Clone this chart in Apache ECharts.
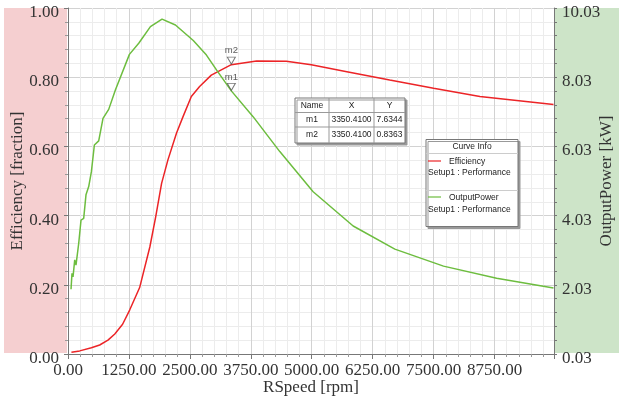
<!DOCTYPE html>
<html>
<head>
<meta charset="utf-8">
<script src="https://cdn.jsdelivr.net/npm/echarts@6/dist/echarts.min.js"></script>
<style>
html, body { margin: 0; padding: 0; background: #fff; }
#chart { width: 622px; height: 409px; }
</style>
</head>
<body>
<div id="chart"></div>
<script>
// Efficiency vs. rotor speed
const effSpeed = [70, 240, 480, 650, 820, 960, 1120, 1265, 1470, 1680, 1800, 1920, 2050, 2225, 2360, 2530, 2700, 2940, 3350.41, 3870, 4480, 4990, 5720, 6600, 7500, 8450, 9960];
const effValues = [0.005, 0.009, 0.018, 0.026, 0.040, 0.058, 0.086, 0.127, 0.192, 0.310, 0.397, 0.493, 0.561, 0.638, 0.686, 0.744, 0.773, 0.806, 0.8363, 0.847, 0.846, 0.836, 0.816, 0.792, 0.768, 0.744, 0.721];

// Output power [kW] vs. rotor speed
const powSpeed = [62, 82, 103, 138, 164, 220, 267, 322, 369, 425, 480, 541, 630, 718, 835, 972, 1260, 1451, 1691, 1929, 2204, 2570, 2840, 3046, 3350.41, 3797, 4345, 5029, 5850, 6705, 7703, 8793, 9960];
const powValues = [1.90, 2.36, 2.26, 2.75, 2.60, 3.23, 3.90, 3.95, 4.63, 4.87, 5.30, 6.07, 6.19, 6.84, 7.10, 7.66, 8.69, 9.01, 9.49, 9.71, 9.54, 9.09, 8.67, 8.24, 7.6344, 6.89, 5.88, 4.72, 3.73, 3.06, 2.57, 2.22, 1.94];

// Markers
const markerNames = ['m1', 'm2'];
const markerX = [3350.41, 3350.41];
const markerY = [7.6344, 0.8363];

// Axis ticks
const rightAxisLabels = [0.03, 2.03, 4.03, 6.03, 8.03, 10.03];
const rightAxisTicks = [0.03, 0.43, 0.83, 1.23, 1.63, 2.03, 2.43, 2.83, 3.23, 3.63, 4.03, 4.43, 4.83, 5.23, 5.63, 6.03, 6.43, 6.83, 7.23, 7.63, 8.03, 8.43, 8.83, 9.23, 9.63, 10.03];

const serif = 'Liberation Serif';
const sans = 'Liberation Sans';
const textColor = '#333';
const redColor = '#ec2427';
const greenColor = '#6dbd3f';

const chart = echarts.init(document.getElementById('chart'), null, { renderer: 'canvas' });

// Marker info table
const tbl = { x: 295, y: 98, w: 110, h: 45, c1: 329, c2: 374, r1: 112.5, r2: 127 };
const tableEls = [
  { type: 'rect', shape: { x: tbl.x, y: tbl.y, width: tbl.w, height: tbl.h },
    style: { fill: '#fff', stroke: '#777', lineWidth: 1, shadowColor: '#999', shadowOffsetX: 2, shadowOffsetY: 2, shadowBlur: 0 }, z: 100 },
  { type: 'line', shape: { x1: tbl.c1, y1: tbl.y, x2: tbl.c1, y2: tbl.y + tbl.h }, style: { stroke: '#999', lineWidth: 1 }, z: 101 },
  { type: 'line', shape: { x1: tbl.c2, y1: tbl.y, x2: tbl.c2, y2: tbl.y + tbl.h }, style: { stroke: '#999', lineWidth: 1 }, z: 101 },
  { type: 'line', shape: { x1: tbl.x, y1: tbl.r1, x2: tbl.x + tbl.w, y2: tbl.r1 }, style: { stroke: '#999', lineWidth: 1 }, z: 101 },
  { type: 'line', shape: { x1: tbl.x, y1: tbl.r2, x2: tbl.x + tbl.w, y2: tbl.r2 }, style: { stroke: '#999', lineWidth: 1 }, z: 101 }
];
const colCenters = [(tbl.x + tbl.c1) / 2, (tbl.c1 + tbl.c2) / 2, (tbl.c2 + tbl.x + tbl.w) / 2];
const rowCenters = [(tbl.y + tbl.r1) / 2, (tbl.r1 + tbl.r2) / 2, (tbl.r2 + tbl.y + tbl.h) / 2];
const tableRows = [['Name', 'X', 'Y']];
markerNames.forEach((n, i) => tableRows.push([n, markerX[i].toFixed(4), markerY[i].toFixed(4)]));
tableRows.forEach((row, ri) => {
  row.forEach((txt, ci) => {
    tableEls.push({ type: 'text', x: colCenters[ci], y: rowCenters[ri], z: 102,
      style: { text: txt, fill: '#222', font: '8.5px ' + sans, align: 'center', verticalAlign: 'middle' } });
  });
});

// Curve info box
const leg = { x: 426, y: 139.5, w: 92, h: 87 };
const legendEls = [
  { type: 'rect', shape: { x: leg.x, y: leg.y, width: leg.w, height: leg.h },
    style: { fill: '#fff', stroke: '#777', lineWidth: 1, shadowColor: '#999', shadowOffsetX: 2, shadowOffsetY: 2, shadowBlur: 0 }, z: 100 },
  { type: 'line', shape: { x1: leg.x, y1: 153.5, x2: leg.x + leg.w, y2: 153.5 }, style: { stroke: '#ccc', lineWidth: 1 }, z: 101 },
  { type: 'line', shape: { x1: leg.x, y1: 190.5, x2: leg.x + leg.w, y2: 190.5 }, style: { stroke: '#ccc', lineWidth: 1 }, z: 101 },
  { type: 'text', x: leg.x + leg.w / 2, y: 146.5, z: 102, style: { text: 'Curve Info', fill: '#222', font: '8.5px ' + sans, align: 'center', verticalAlign: 'middle' } },
  { type: 'line', shape: { x1: 428, y1: 161, x2: 441, y2: 161 }, style: { stroke: redColor, lineWidth: 1.2 }, z: 101 },
  { type: 'text', x: 449, y: 161.5, z: 102, style: { text: 'Efficiency', fill: '#222', font: '8.5px ' + sans, align: 'left', verticalAlign: 'middle' } },
  { type: 'text', x: 428, y: 173, z: 102, style: { text: 'Setup1 : Performance', fill: '#222', font: '8.5px ' + sans, align: 'left', verticalAlign: 'middle' } },
  { type: 'line', shape: { x1: 428, y1: 197, x2: 441, y2: 197 }, style: { stroke: greenColor, lineWidth: 1.2 }, z: 101 },
  { type: 'text', x: 449, y: 197.5, z: 102, style: { text: 'OutputPower', fill: '#222', font: '8.5px ' + sans, align: 'left', verticalAlign: 'middle' } },
  { type: 'text', x: 428, y: 209.5, z: 102, style: { text: 'Setup1 : Performance', fill: '#222', font: '8.5px ' + sans, align: 'left', verticalAlign: 'middle' } }
];

// Coloured axis bands
const bandEls = [
  { type: 'rect', shape: { x: 4, y: 8, width: 63, height: 345 }, style: { fill: '#f5cfd0' }, z: -10 },
  { type: 'rect', shape: { x: 555, y: 8, width: 64, height: 345 }, style: { fill: '#cde4c8' }, z: -10 }
];

function markerSeries(i, axisIndex) {
  return {
    type: 'scatter',
    yAxisIndex: axisIndex,
    data: [[markerX[i], markerY[i]]],
    symbol: 'triangle',
    symbolRotate: 180,
    symbolSize: [8, 7],
    symbolOffset: [0, -4],
    itemStyle: { color: 'rgba(255,255,255,0)', borderColor: '#555', borderWidth: 1 },
    label: { show: true, formatter: markerNames[i], position: 'top', distance: 1,
      fontSize: 9.5, fontFamily: sans, color: '#333' },
    z: 5
  };
}

const option = {
  animation: false,
  backgroundColor: '#fff',
  grid: { left: 68, right: 68, top: 8, bottom: 55, containLabel: false, outerBoundsMode: 'none' },
  xAxis: {
    type: 'value',
    min: 0, max: 9970, interval: 1250,
    name: 'RSpeed [rpm]', nameLocation: 'middle', nameGap: 25, nameMoveOverlap: false,
    nameTextStyle: { fontFamily: serif, fontSize: 17, color: textColor },
    axisLine: { show: true, lineStyle: { color: '#777' } },
    axisTick: { show: true, length: 5, lineStyle: { color: '#777' } },
    minorTick: { show: true, splitNumber: 5, length: 3, lineStyle: { color: '#999' } },
    axisLabel: { fontFamily: serif, fontSize: 17, color: textColor, margin: 8,
      showMaxLabel: false, formatter: v => v.toFixed(2) },
    splitLine: { show: true, lineStyle: { color: '#d2d2d2', width: 1 } },
    minorSplitLine: { show: true, lineStyle: { color: '#ececec', width: 1 } }
  },
  yAxis: [
    {
      type: 'value', position: 'left',
      min: 0, max: 1, interval: 0.2,
      name: 'Efficiency [fraction]', nameLocation: 'middle', nameGap: 42, nameRotate: 90, nameMoveOverlap: false,
      nameTextStyle: { fontFamily: serif, fontSize: 17, color: textColor },
      axisLine: { show: true, lineStyle: { color: '#777' } },
      axisTick: { show: true, length: 4, lineStyle: { color: '#777' } },
      minorTick: { show: true, splitNumber: 5, length: 3, lineStyle: { color: '#999' } },
      axisLabel: { fontFamily: serif, fontSize: 17, color: textColor, margin: 9,
        verticalAlign: 'top', lineHeight: 9, formatter: v => v.toFixed(2) },
      splitLine: { show: true, lineStyle: { color: '#d2d2d2', width: 1 } },
      minorSplitLine: { show: true, lineStyle: { color: '#ececec', width: 1 } }
    },
    {
      type: 'value', position: 'right',
      min: 0.03, max: 10.03,
      name: 'OutputPower [kW]', nameLocation: 'middle', nameGap: 44, nameRotate: 90, nameMoveOverlap: false,
      nameTextStyle: { fontFamily: serif, fontSize: 17, color: textColor },
      axisLine: { show: true, lineStyle: { color: '#777' } },
      axisTick: { show: true, length: 3, customValues: rightAxisTicks, lineStyle: { color: '#777' } },
      axisLabel: { fontFamily: serif, fontSize: 17, color: textColor, margin: 8,
        verticalAlign: 'top', lineHeight: 9, customValues: rightAxisLabels, formatter: v => v.toFixed(2) },
      splitLine: { show: false }
    }
  ],
  series: [
    {
      name: 'Efficiency', type: 'line', yAxisIndex: 0,
      data: effSpeed.map((s, i) => [s, effValues[i]]),
      symbol: 'none', lineStyle: { color: redColor, width: 1.5 }, z: 3
    },
    {
      name: 'OutputPower', type: 'line', yAxisIndex: 1,
      data: powSpeed.map((s, i) => [s, powValues[i]]),
      symbol: 'none', lineStyle: { color: greenColor, width: 1.5 }, z: 3
    },
    markerSeries(0, 1),
    markerSeries(1, 0)
  ],
  graphic: bandEls.concat(tableEls, legendEls)
};

chart.setOption(option);
</script>
</body>
</html>
